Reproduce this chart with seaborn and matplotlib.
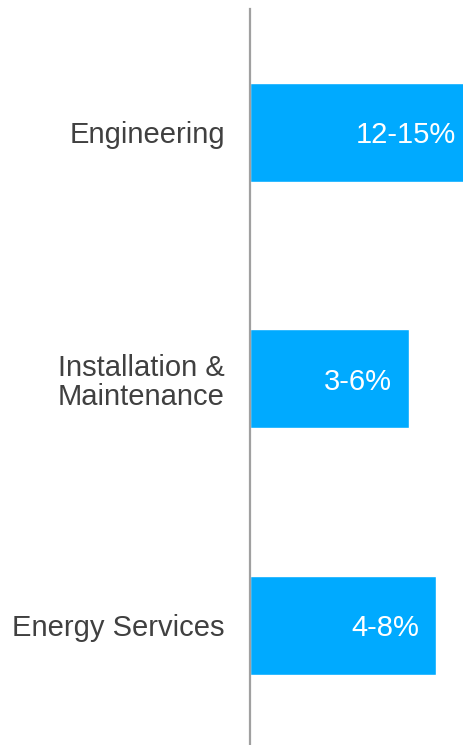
import matplotlib
matplotlib.use("Agg")
import matplotlib.pyplot as plt
import seaborn as sns
import pandas as pd

# segments and growth ranges
segments = ["Engineering", "Installation &\nMaintenance", "Energy Services"]
ranges = ["12-15%", "3-6%", "4-8%"]
# bar length (axis runs to 100, first bar is cut off)
bar_len = [104.7, 74.6, 87.3]

df = pd.DataFrame({"segment": segments, "value": bar_len, "label": ranges})

sns.set_theme(style="white")
plt.rcParams['font.family'] = ['Liberation Sans', 'DejaVu Sans']

fig = plt.figure(figsize=(4.63, 7.45), dpi=100)
ax = fig.add_axes([250 / 463, -3.5 / 745, 213 / 463, 739.5 / 745])

sns.barplot(data=df, x="value", y="segment", color="#00AAFF", saturation=1,
            width=0.4, orient="h", ax=ax)

ax.set_xlim(0, 100)
ax.set_ylim(2.5, -0.5)
ax.set_xlabel("")
ax.set_ylabel("")
ax.set_xticks([])
ax.tick_params(axis="y", length=0, pad=18, labelsize=21, labelcolor="#404040")
for t in ax.get_yticklabels():
    t.set_multialignment("right")
    t.set_linespacing(1.05)

for s in ["top", "right", "bottom"]:
    ax.spines[s].set_visible(False)
ax.spines["left"].set_color("#A0A0A0")
ax.spines["left"].set_linewidth(1.6)

for i, row in df.iterrows():
    ax.text(row["value"] - 8, i, row["label"], color="white", fontsize=21,
            ha="right", va="center_baseline")

fig.savefig("out.png", dpi=100)
